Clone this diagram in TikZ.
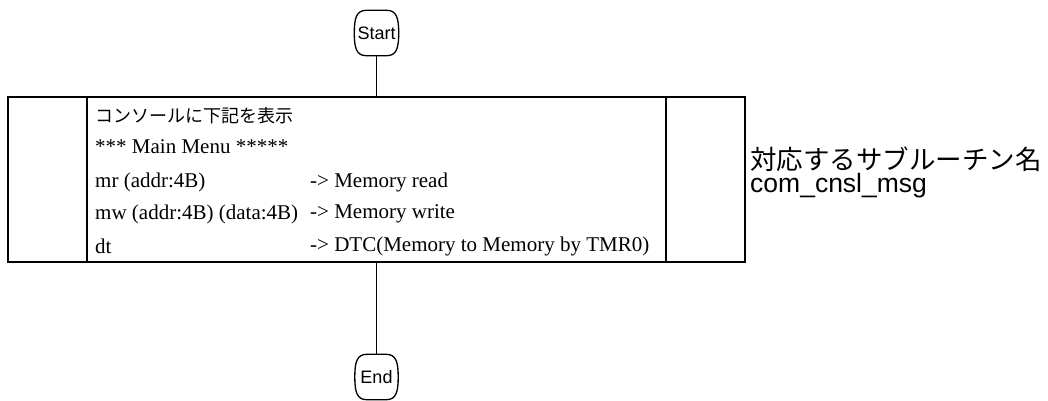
\documentclass[tikz,border=0pt]{standalone}
\usepackage{fontspec}
\usetikzlibrary{calc}
\setmainfont{Liberation Serif}
\newfontfamily\sansf{Liberation Sans}
\newfontfamily\cjk{Noto Sans CJK JP}
\newcommand\termoutline[1]{%
  \draw[termline]
    ($(#1.north west)+(9,0)$) -- ($(#1.north east)+(-9,0)$)
    .. controls ($(#1.north east)+(1,0)$) and ($(#1.north east)+(3,8)$) .. ($(#1.east)+(3,0)$)
    .. controls ($(#1.south east)+(3,-8)$) and ($(#1.south east)+(1,0)$) .. ($(#1.south east)+(-9,0)$)
    -- ($(#1.south west)+(9,0)$)
    .. controls ($(#1.south west)+(-1,0)$) and ($(#1.south west)+(-3,-8)$) .. ($(#1.west)+(-3,0)$)
    .. controls ($(#1.north west)+(-3,8)$) and ($(#1.north west)+(-1,0)$) .. cycle;}
\begin{document}
\begin{tikzpicture}[x=1pt,y=-1pt,
  term/.style={minimum width=37pt,minimum height=45pt,inner sep=0pt,font=\sansf\fontsize{18}{20}\selectfont},
  termline/.style={line width=1.3pt},
  procbox/.style={draw,line width=1.7pt,minimum width=737pt,minimum height=165pt,inner sep=0pt},
  divider/.style={line width=1.7pt},
  conn/.style={line width=1.6pt},
  boxtext/.style={anchor=west,inner sep=0pt,font=\fontsize{21}{24}\selectfont},
  jptext/.style={anchor=west,inner sep=0pt,font=\cjk\fontsize{18}{20}\selectfont},
  note/.style={anchor=west,inner sep=0pt,font=\sansf\fontsize{26.5}{30}\selectfont}
]
\useasboundingbox (0,0) rectangle (1048,400);
\node[term] (start) at (376.5,33) {Start};
\termoutline{start}
\node[procbox] (proc) at (376.5,179.5) {};
\node[term] (end) at (376.5,377) {End};
\termoutline{end}
\coordinate (d1t) at (87,97);
\coordinate (d1b) at (87,262);
\coordinate (d2t) at (666,97);
\coordinate (d2b) at (666,262);
\draw[divider] (d1t) -- (d1b);
\draw[divider] (d2t) -- (d2b);
\draw[conn] (start.south) -- (start.south |- proc.north);
\draw[conn] (end.north |- proc.south) -- (end.north);
\node[jptext] (l1) at (95,116) {コンソールに下記を表示};
\node[boxtext] (l2) at (95,147) {*** Main Menu *****};
\node[boxtext] (l3a) at (95,182) {mr (addr:4B)};
\node[boxtext] (l3b) at (310,182) {-> Memory read};
\node[boxtext] (l4a) at (95,214) {mw (addr:4B) (data:4B)};
\node[boxtext] (l4b) at (310,214) {-> Memory write};
\node[boxtext] (l5a) at (95,246) {dt};
\node[boxtext] (l5b) at (310,246) {-> DTC(Memory to Memory by TMR0)};
\node[note] (n1) at (750,159) {\cjk 対応するサブルーチン名};
\node[note] (n2) at (750,186) {com\_cnsl\_msg};
\end{tikzpicture}
\end{document}
